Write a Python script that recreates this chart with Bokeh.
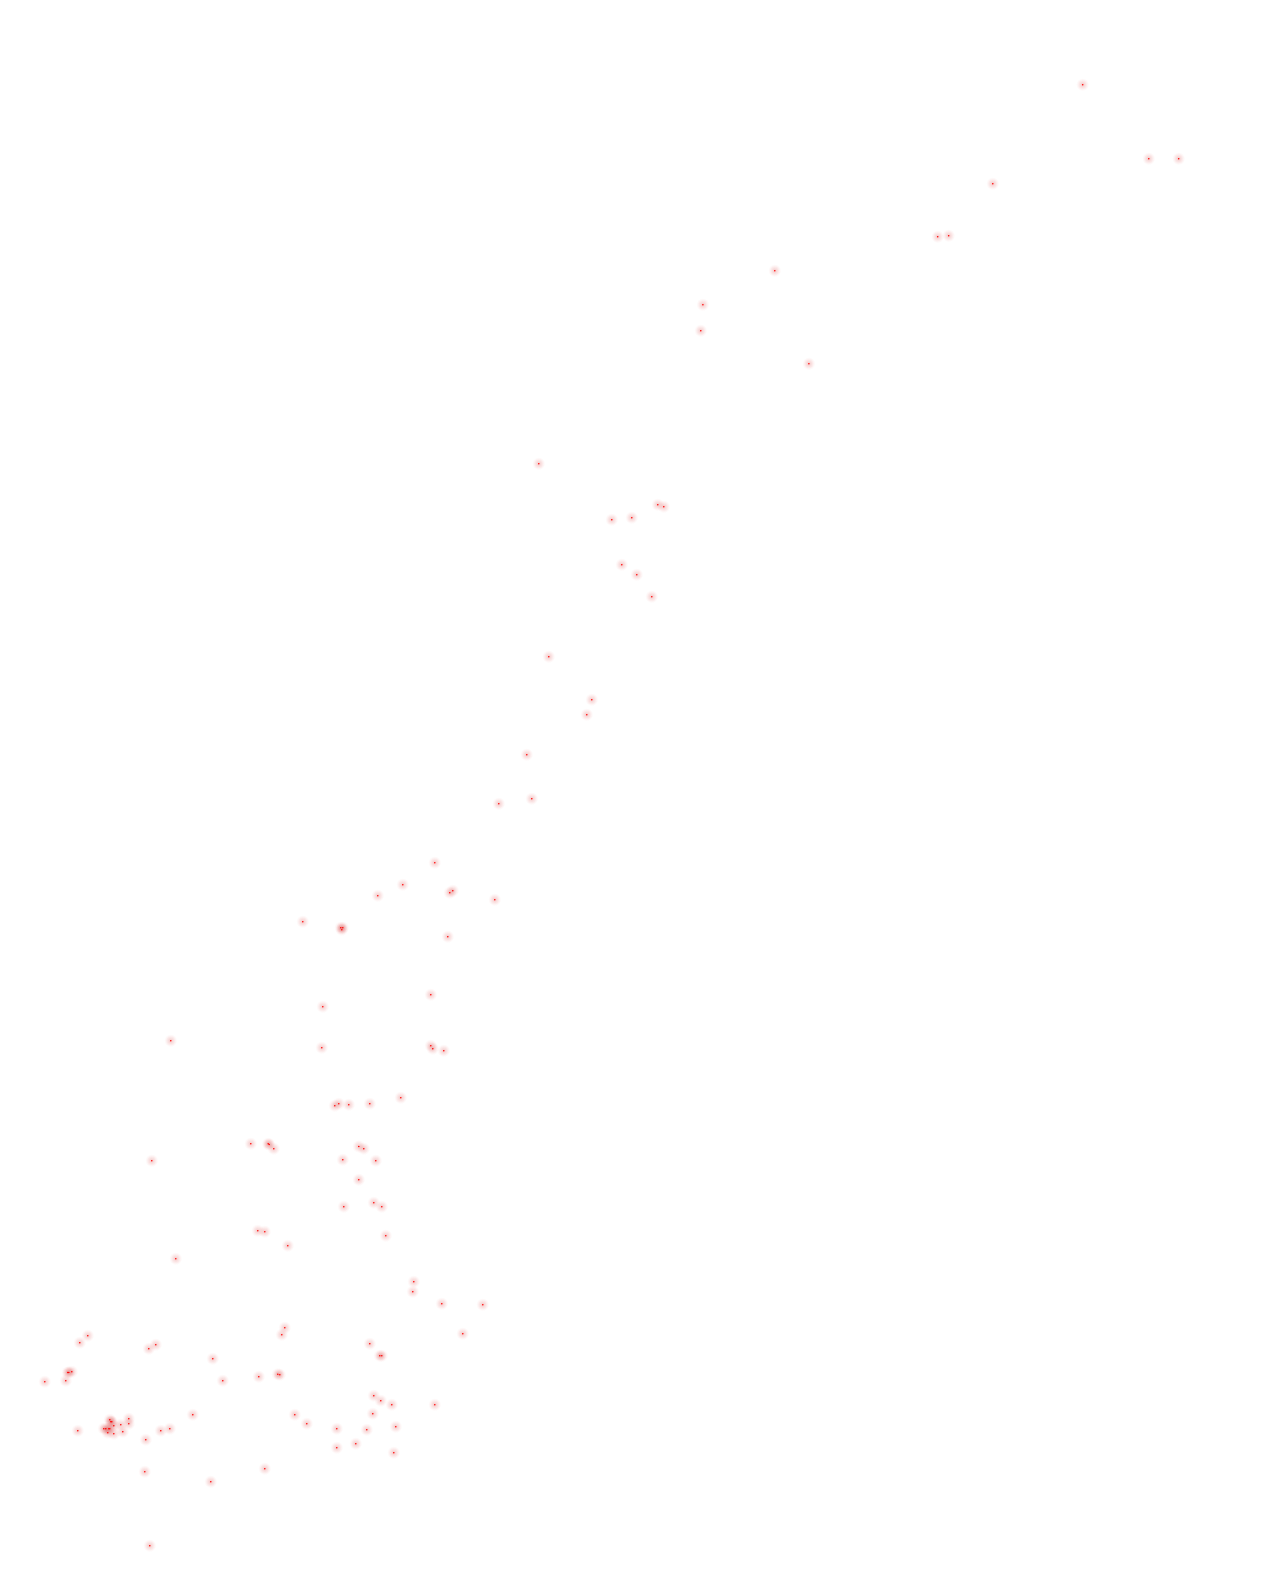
from bokeh.plotting import figure
from bokeh.models import Range1d, ColumnDataSource
from bokeh.embed import file_html
from bokeh.resources import INLINE

x_vals = [1082.2, 1148.3, 1178.2, 992.3, 937.2, 948.2, 774.3, 702.4, 700.3, 808.4,
          538.3, 657.3, 663.3, 611.3, 631.3, 621.3, 636.3, 651.3,
          548.3, 591.3, 586.3, 526.3, 531.3, 498.3,
          434.3, 402.3, 377.3, 449.3, 452.3, 494.3, 302.3, 340.3, 342.3, 341.3, 447.3,
          430.3, 322.3, 170.3, 321.3, 430.3, 432.3, 443.3, 400.3, 369.3, 348.3, 338.3, 334.3,
          250.3, 267.7, 268.7, 273.3, 151.3, 358.3, 363.3, 342.3, 375.3, 358.3, 373.3, 381.3,
          343.3, 257.3, 264.3, 287.3, 385.3, 175.3,
          87.3, 79.3, 155.3, 148.3, 212.3, 222.3, 67.3, 68.3, 71.3, 44.3, 65.3, 192.3, 77.3,
          109.3, 110.3, 111.3, 128.3, 128.3, 120.3, 113.3, 103.3, 105.3, 108.3, 109.3,
          107.3, 113.3, 122.3, 160.3, 169.3, 145.3, 144.3, 210.3, 149.3,
          413.3, 412.3, 441.3, 482.3, 462.3, 284.3, 281.3, 369.3, 379.3, 381.3, 258.3,
          277.3, 279.3, 373.3, 380.3, 391.3, 434.3, 372.3, 294.3, 306.3, 336.3, 366.3,
          395.3, 355.3, 336.3, 393.3, 264.3]
y_vals = [84.3, 158.3, 158.3, 183.3, 236.3, 235.3, 270.3, 304.3, 330.3, 363.3,
          463.3, 504.3, 506.3, 519.3, 517.3, 564.3, 574.3, 596.3,
          656.3, 699.3, 714.3, 754.3, 798.3, 803.3,
          862.3, 884.3, 895.3, 892.3, 890.3, 899.3, 921.3, 927.3, 927.3, 929.3, 936.3,
          994.3, 1006.3, 1040.3, 1047.3, 1045.3, 1048.3, 1050.3, 1097.3, 1103.3, 1104.3, 1103.3, 1105.3,
          1143.3, 1143.3, 1144.0, 1148.3, 1160.3, 1146.0, 1148.3, 1159.3, 1160.3, 1179.3, 1202.3, 1206.3,
          1206.3, 1230.3, 1231.3, 1245.3, 1235.3, 1258.3,
          1335.3, 1342.3, 1344.3, 1348.3, 1358.3, 1380.3, 1372.0, 1372.0, 1371.3, 1381.3, 1380.3, 1414.3, 1430.3,
          1419.3, 1421.3, 1421.3, 1418.3, 1423.3, 1424.3, 1425.3, 1428.3, 1428.3, 1428.3, 1428.3,
          1432.3, 1433.3, 1431.3, 1430.3, 1428.3, 1439.3, 1471.3, 1481.3, 1545.3,
          1281.3, 1291.3, 1303.3, 1304.3, 1333.3, 1327.3, 1334.3, 1343.3, 1355.3, 1355.3, 1376.3,
          1373.7, 1374.3, 1395.3, 1400.3, 1404.3, 1404.3, 1413.3, 1414.3, 1423.3, 1428.3, 1429.3,
          1426.3, 1443.3, 1447.3, 1452.3, 1468.3]

src = ColumnDataSource(data=dict(x=x_vals, y=y_vals))

W, H = 1261, 1564
p = figure(width=W, height=H, output_backend="svg", toolbar_location=None,
           x_range=Range1d(0, W), y_range=Range1d(H, 0),
           min_border=0, outline_line_color=None, background_fill_color="white",
           border_fill_color="white")
p.axis.visible = False
p.grid.visible = False

for size, alpha in [(12, 0.03), (10, 0.035), (8, 0.045), (6, 0.05), (4, 0.06)]:
    p.scatter("x", "y", source=src, size=size, fill_color="#d83838",
              fill_alpha=alpha, line_color=None)
p.scatter("x", "y", source=src, size=1.6, fill_color="#ff0000",
          fill_alpha=1.0, line_color=None)

open("out.html", "w").write(file_html(p, INLINE))
